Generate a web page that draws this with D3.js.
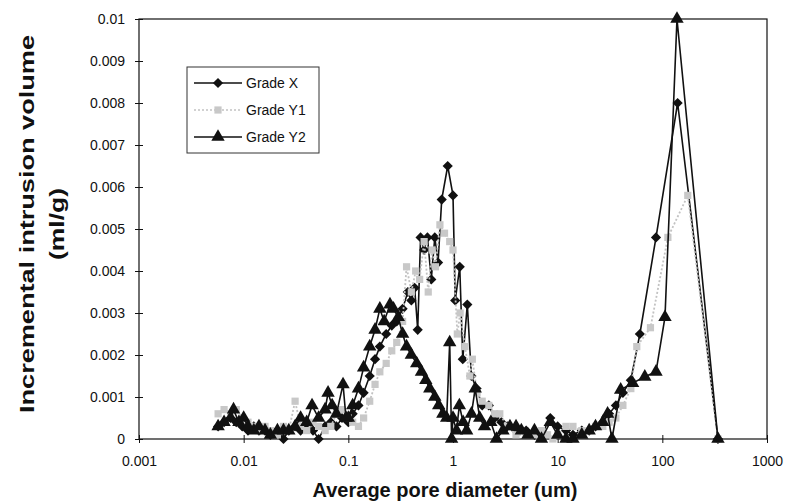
<!DOCTYPE html>
<html>
<head>
<meta charset="utf-8">
<script src="https://cdn.jsdelivr.net/npm/d3@7"></script>
<style>
  body { margin: 0; background: #fff; }
  text { font-family: "Liberation Sans", Arial, sans-serif; }
</style>
</head>
<body>
<script>
// pore diameters (um) and incremental volumes (ml/g)
var xDiam = [0.0057,0.0065,0.0075,0.0085,0.0097,0.011,0.0125,0.014,0.016,0.018,0.021,0.024,0.027,0.031,0.035,0.04,0.046,0.052,0.06,0.068,0.077,0.087,0.1,0.11,0.125,0.14,0.16,0.18,0.2,0.23,0.26,0.29,0.33,0.37,0.4,0.43,0.46,0.49,0.53,0.57,0.62,0.67,0.72,0.78,0.89,1.0,1.05,1.16,1.24,1.37,1.5,1.68,1.9,2.2,2.5,2.9,3.3,4,5,6,7,8.5,10,12,14,17,20,23,27,31,36,42,50,61,87,140,340];
var xVol  = [0.0003,0.0004,0.0005,0.0004,0.0003,0.0002,0.0003,0.0002,0.0002,0.0001,0.0002,0.0,0.0002,0.0003,0.0002,0.0003,0.0002,0.0,0.0003,0.0004,0.0003,0.0005,0.0004,0.0006,0.0008,0.0011,0.0015,0.0019,0.0022,0.0025,0.0027,0.0028,0.0031,0.0035,0.0033,0.0036,0.0026,0.0048,0.0045,0.0048,0.0038,0.0048,0.0042,0.0057,0.0065,0.0058,0.0033,0.0041,0.0019,0.0032,0.0015,0.0012,0.0008,0.0008,0.0005,0.0004,0.0003,0.0002,0.0002,0.0001,0.0001,0.0005,0.0003,0.0002,0.0001,0.0002,0.0002,0.0003,0.0004,0.0006,0.0008,0.0011,0.0014,0.0025,0.0048,0.0080,0];

var y1Diam = [0.0057,0.0065,0.0075,0.0085,0.0097,0.011,0.0125,0.014,0.016,0.018,0.021,0.024,0.027,0.031,0.035,0.04,0.046,0.052,0.06,0.068,0.077,0.087,0.1,0.11,0.125,0.14,0.16,0.18,0.2,0.23,0.26,0.29,0.33,0.36,0.4,0.44,0.48,0.53,0.58,0.63,0.68,0.75,0.83,0.93,1.0,1.1,1.17,1.3,1.45,1.53,1.7,1.9,2.2,2.5,2.8,3.3,4,5,6,7,8,9,10,12,14,17,20,23,27,31,36,42,50,57,77,113,175,340];
var y1Vol  = [0.0006,0.0007,0.0006,0.0007,0.0005,0.0004,0.0003,0.0002,0.0003,0.0002,0.0001,0.0003,0.0002,0.0009,0.0003,0.0002,0.0004,0.0003,0.0002,0.0003,0.0006,0.0007,0.0005,0.0004,0.0003,0.0005,0.0009,0.0013,0.0016,0.0018,0.0021,0.0023,0.0028,0.0041,0.0035,0.0040,0.0038,0.0047,0.0035,0.0045,0.0041,0.0051,0.0049,0.0047,0.0045,0.0025,0.0030,0.0022,0.0015,0.0019,0.0011,0.0009,0.0008,0.0006,0.0006,0.0003,0.0001,0.0001,0.0001,0.0002,0.0001,0.0,0.0001,0.0003,0.0003,0.0002,0.0002,0.0003,0.0003,0.0004,0.0005,0.0008,0.0012,0.0022,0.00265,0.0048,0.0058,0];

var y2Diam = [0.0057,0.0065,0.0075,0.008,0.009,0.01,0.011,0.0125,0.014,0.016,0.018,0.021,0.024,0.027,0.031,0.035,0.04,0.045,0.052,0.06,0.064,0.07,0.077,0.089,0.095,0.1,0.11,0.125,0.14,0.16,0.18,0.2,0.22,0.25,0.27,0.3,0.33,0.36,0.4,0.45,0.5,0.55,0.6,0.67,0.73,0.8,0.87,0.93,0.97,1.0,1.08,1.15,1.25,1.35,1.5,1.63,1.8,2.0,2.3,2.6,3.0,3.5,4,4.5,5.2,6,7,8.5,10,12,14,17,20,23,27,30,33,40,52,68,87,106,138,340];
var y2Vol  = [0.0003,0.0004,0.0005,0.0007,0.0004,0.0005,0.0003,0.0002,0.0003,0.0002,0.0001,0.0002,0.0002,0.0002,0.0003,0.0005,0.0004,0.0008,0.0005,0.0007,0.0011,0.0008,0.0006,0.0013,0.0005,0.0005,0.0008,0.0012,0.0017,0.0022,0.0026,0.0031,0.0028,0.0032,0.0031,0.0029,0.0025,0.0022,0.0020,0.0018,0.0016,0.0014,0.0012,0.0010,0.0008,0.0006,0.0005,0.0023,0.0,0.0005,0.0002,0.0008,0.0004,0.0002,0.0006,0.0012,0.0005,0.0003,0.0004,0.0,0.0002,0.0003,0.0003,0.0002,0.0001,0.0002,0.0,0.0004,0.0001,0.0,0.0,0.0001,0.0002,0.0003,0.0004,0.0006,0.0,0.00117,0.00133,0.00148,0.0016,0.0029,0.0100,0];

var seriesNames = ["Grade X", "Grade Y1", "Grade Y2"];
var xTickVals = [0.001, 0.01, 0.1, 1, 10, 100, 1000];
var yTickVals = [0, 0.001, 0.002, 0.003, 0.004, 0.005, 0.006, 0.007, 0.008, 0.009, 0.01];

var W = 789, H = 504;
var pL = 139, pR = 767, pT = 19, pB = 439;

var svg = d3.select("body").append("svg")
  .attr("width", W)
  .attr("height", H);

var x = d3.scaleLog().domain([0.001, 1000]).range([pL, pR]);
var y = d3.scaleLinear().domain([0, 0.01]).range([pB, pT]);

// frame
svg.append("rect")
  .attr("x", pL).attr("y", pT)
  .attr("width", pR - pL).attr("height", pB - pT)
  .attr("fill", "none").attr("stroke", "#111").attr("stroke-width", 1.2);

// axes
var xAxis = svg.append("g")
  .attr("transform", "translate(0," + pB + ")")
  .call(d3.axisBottom(x).tickValues(xTickVals).tickSize(4)
    .tickFormat(function(d){ return d3.format("~g")(d); }));
xAxis.select(".domain").remove();
xAxis.selectAll(".tick line").attr("y1", -4).attr("stroke", "#111");
xAxis.selectAll("text").attr("font-size", 14).attr("fill", "#111").attr("y", 17);

var yAxis = svg.append("g")
  .attr("transform", "translate(" + pL + ",0)")
  .call(d3.axisLeft(y).tickValues(yTickVals).tickSize(4)
    .tickFormat(function(d){ return d === 0 ? "0" : d3.format("~g")(d); }));
yAxis.select(".domain").remove();
yAxis.selectAll(".tick line").attr("x1", 4).attr("x2", -4).attr("stroke", "#111");
yAxis.selectAll("text").attr("font-size", 14).attr("fill", "#111").attr("x", -14);

// axis titles
svg.append("text")
  .attr("x", (pL + pR) / 2 - 8).attr("y", 497)
  .attr("text-anchor", "middle")
  .attr("font-size", 20).attr("font-weight", "bold").attr("fill", "#111")
  .text("Average pore diameter (um)");

// the scanned title is drawn long, so stretch it to its length
var yt = svg.append("g").attr("transform", "translate(0,224) rotate(-90)");
yt.append("text")
  .attr("x", 0).attr("y", 34)
  .attr("text-anchor", "middle")
  .attr("textLength", 378).attr("lengthAdjust", "spacingAndGlyphs")
  .attr("font-size", 20).attr("font-weight", "bold").attr("fill", "#111")
  .text("Incremental intrusion volume");
yt.append("text")
  .attr("x", 0).attr("y", 64)
  .attr("text-anchor", "middle")
  .attr("textLength", 72).attr("lengthAdjust", "spacingAndGlyphs")
  .attr("font-size", 20).attr("font-weight", "bold").attr("fill", "#111")
  .text("(ml/g)");

var line = d3.line()
  .x(function(d){ return x(d[0]); })
  .y(function(d){ return y(d[1]); });

// a square turned 45 degrees makes the Excel-style diamond
var series = [
  { name: seriesNames[0], pts: d3.zip(xDiam, xVol), stroke: "#111", dash: null, sym: d3.symbolSquare, rot: 45, size: 52, fill: "#111" },
  { name: seriesNames[1], pts: d3.zip(y1Diam, y1Vol), stroke: "#c2c2c2", dash: "2,2", sym: d3.symbolSquare, rot: 0, size: 52, fill: "#c8c8c8" },
  { name: seriesNames[2], pts: d3.zip(y2Diam, y2Vol), stroke: "#111", dash: null, sym: d3.symbolTriangle, rot: 0, size: 78, fill: "#111" }
];

series.forEach(function(s){
  var g = svg.append("g");
  g.append("path")
    .datum(s.pts)
    .attr("d", line)
    .attr("fill", "none")
    .attr("stroke", s.stroke)
    .attr("stroke-width", s.dash ? 1.8 : 1.6)
    .attr("stroke-dasharray", s.dash);
  g.selectAll("path.m")
    .data(s.pts)
    .enter().append("path")
    .attr("class", "m")
    .attr("transform", function(d){ return "translate(" + x(d[0]) + "," + y(d[1]) + ") rotate(" + s.rot + ")"; })
    .attr("d", d3.symbol().type(s.sym).size(s.size))
    .attr("fill", s.fill);
});

// legend
var lg = svg.append("g");
lg.append("rect")
  .attr("x", 187).attr("y", 67).attr("width", 132).attr("height", 86)
  .attr("fill", "#fff").attr("stroke", "#333").attr("stroke-width", 1);
series.forEach(function(s, i){
  var ly = 83 + i * 27;
  lg.append("line")
    .attr("x1", 194).attr("x2", 242).attr("y1", ly).attr("y2", ly)
    .attr("stroke", s.stroke).attr("stroke-width", 1.6)
    .attr("stroke-dasharray", s.dash);
  lg.append("path")
    .attr("transform", "translate(218," + ly + ") rotate(" + s.rot + ")")
    .attr("d", d3.symbol().type(s.sym).size(s.size))
    .attr("fill", s.fill);
  lg.append("text")
    .attr("x", 246).attr("y", ly + 5)
    .attr("font-size", 14).attr("fill", "#111")
    .text(s.name);
});
</script>
</body>
</html>
